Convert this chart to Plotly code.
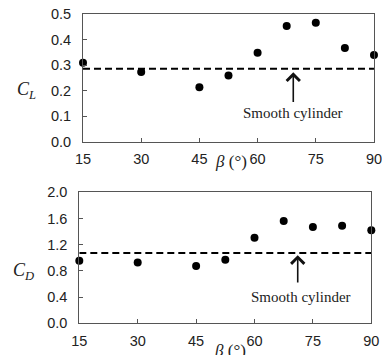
import plotly.graph_objects as go

beta = [15, 30, 45, 52.5, 60, 67.5, 75, 82.5, 90]
cl = [0.31, 0.273, 0.214, 0.26, 0.349, 0.453, 0.466, 0.367, 0.34]
cd = [0.956, 0.93, 0.875, 0.97, 1.307, 1.56, 1.47, 1.49, 1.42]
cl_smooth = 0.286
cd_smooth = 1.073
x_ticks = [15, 30, 45, 60, 75, 90]
x_range = [15, 90]

fig = go.Figure()

# top panel
fig.add_trace(go.Scatter(x=x_range, y=[cl_smooth, cl_smooth], mode="lines",
                         line=dict(color="black", width=2, dash="7px,4px"),
                         xaxis="x", yaxis="y", showlegend=False, cliponaxis=False))
fig.add_trace(go.Scatter(x=beta, y=cl, mode="markers",
                         marker=dict(color="black", size=8),
                         xaxis="x", yaxis="y", showlegend=False, cliponaxis=False))
# bottom panel
fig.add_trace(go.Scatter(x=x_range, y=[cd_smooth, cd_smooth], mode="lines",
                         line=dict(color="black", width=2, dash="7px,4px"),
                         xaxis="x2", yaxis="y2", showlegend=False, cliponaxis=False))
fig.add_trace(go.Scatter(x=beta, y=cd, mode="markers",
                         marker=dict(color="black", size=8),
                         xaxis="x2", yaxis="y2", showlegend=False, cliponaxis=False))

tick_font = dict(family="Liberation Sans, Arial", size=14.5, color="#222")
axis_common = dict(showline=True, mirror=True, linecolor="#555", linewidth=1,
                   ticks="inside", ticklen=4, tickcolor="#555", showgrid=False,
                   zeroline=False, tickfont=tick_font, automargin=False,
                   ticklabeloverflow="allow")

fig.update_layout(
    width=382, height=355,
    margin=dict(l=0, r=0, t=0, b=0),
    paper_bgcolor="white", plot_bgcolor="white",
    xaxis=dict(domain=[0.2173, 0.979], anchor="y", range=x_range,
               tickvals=x_ticks, ticklabelstandoff=4, **axis_common),
    yaxis=dict(domain=[0.6, 0.9606], anchor="x", range=[0, 0.5],
               dtick=0.1, tickformat=".1f", ticklabelstandoff=8, **axis_common),
    xaxis2=dict(domain=[0.2076, 0.972], anchor="y2", range=x_range,
                tickvals=x_ticks, ticklabelstandoff=4, **axis_common),
    yaxis2=dict(domain=[0.0893, 0.4583], anchor="x2", range=[0, 2.0],
                dtick=0.4, tickformat=".1f", ticklabelstandoff=8, **axis_common),
)

serif = "Liberation Serif, Times New Roman, serif"
annos = [
    # y-axis titles
    dict(text="<i>C</i><sub><i>L</i></sub>", x=26, y=90, size=18),
    dict(text="<i>C</i><sub><i>D</i></sub>", x=23, y=271, size=18),
    # x-axis titles
    dict(text="<i>β</i> (°)", x=231, y=161, size=17),
    dict(text="<i>β</i> (°)", x=230, y=350, size=17),
]
for a in annos:
    fig.add_annotation(text=a["text"], x=a["x"] / 382, y=1 - a["y"] / 355,
                       xref="paper", yref="paper", showarrow=False,
                       xanchor="center", yanchor="middle",
                       font=dict(family=serif, size=a["size"], color="#222"))

# arrows and labels
fig.add_annotation(x=69.2, y=0.272, xref="x", yref="y", ax=69.2, ay=0.15,
                   axref="x", ayref="y", showarrow=True, arrowhead=4,
                   arrowsize=1.6, arrowwidth=1.6, arrowcolor="#111", text="")
fig.add_annotation(x=69.0, y=0.113, xref="x", yref="y", text="Smooth cylinder",
                   showarrow=False, font=dict(family=serif, size=15, color="#222"))
fig.add_annotation(x=71.1, y=1.04, xref="x2", yref="y2", ax=71.1, ay=0.6,
                   axref="x2", ayref="y2", showarrow=True, arrowhead=4,
                   arrowsize=1.6, arrowwidth=1.6, arrowcolor="#111", text="")
fig.add_annotation(x=72.0, y=0.40, xref="x2", yref="y2", text="Smooth cylinder",
                   showarrow=False, font=dict(family=serif, size=15, color="#222"))

fig.write_html("out.html", config={"displayModeBar": False},
               post_script="document.body.style.margin='0';document.body.style.overflow='hidden';")
